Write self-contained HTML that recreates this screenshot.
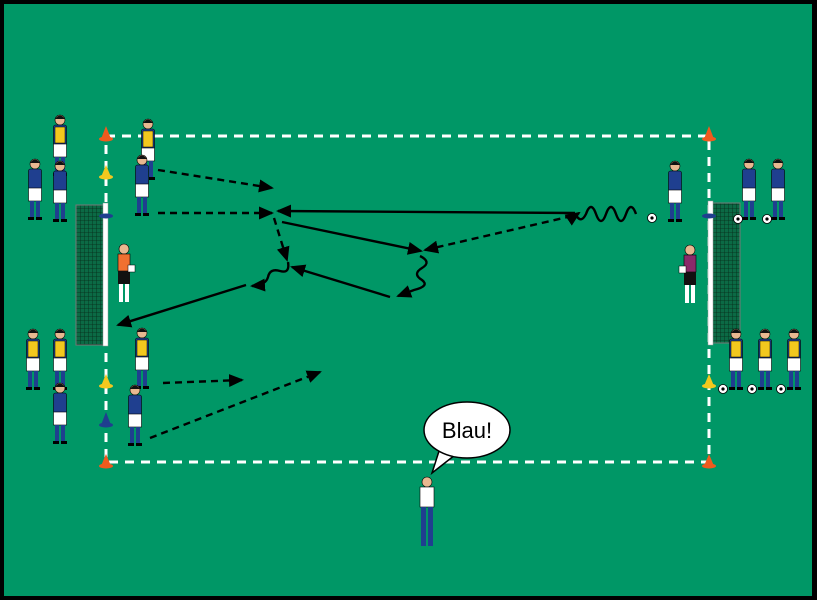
<!DOCTYPE html>
<html><head><meta charset="utf-8"><style>
html,body{margin:0;padding:0;background:#000;}
svg{display:block;}
</style></head><body>
<svg width="817" height="600" viewBox="0 0 817 600" xmlns="http://www.w3.org/2000/svg">
<defs>
<marker id="ah" markerWidth="15" markerHeight="13" refX="13" refY="6.5" orient="auto" markerUnits="userSpaceOnUse" viewBox="0 0 15 13">
<path d="M0,0 L15,6.5 L0,13 z" fill="#000"/></marker>
<g id="pb">
<circle cx="0" cy="4" r="5" fill="#e8b890" stroke="#000" stroke-width="0.6"/>
<path d="M-5,3 Q0,-4 5,3 z" fill="#111"/>
<rect x="-6.5" y="9" width="13" height="20" rx="2" fill="#1f3f8f" stroke="#000" stroke-width="0.6"/>
<rect x="-6.5" y="28" width="13" height="13" fill="#fff" stroke="#000" stroke-width="0.6"/>
<rect x="-5" y="41" width="4" height="17" fill="#1f3f8f"/>
<rect x="1" y="41" width="4" height="17" fill="#1f3f8f"/>
<rect x="-7" y="57" width="6" height="3" fill="#000"/>
<rect x="1" y="57" width="6" height="3" fill="#000"/>
</g>
<g id="py">
<use href="#pb"/>
<rect x="-5" y="11" width="10" height="16" fill="#f2c81e" stroke="#000" stroke-width="0.5"/>
</g>
<g id="ball"><circle r="4.5" fill="#fff" stroke="#000" stroke-width="0.8"/><circle r="1.6" fill="#000"/></g>
<pattern id="net" width="4" height="4" patternUnits="userSpaceOnUse"><rect width="4" height="4" fill="#0b6a45"/><path d="M4,0 L0,0 0,4" fill="none" stroke="#062a18" stroke-width="0.8"/></pattern>
</defs>
<rect x="0" y="0" width="817" height="600" fill="#000"/>
<rect x="4" y="4" width="808" height="592" fill="#009766"/>

<rect x="106" y="136" width="603" height="326" fill="none" stroke="#fff" stroke-width="3" stroke-dasharray="9,7"/>

<rect x="76" y="205" width="28" height="140" fill="url(#net)" stroke="#777"/>
<rect x="103" y="203" width="5" height="143" fill="#fff" stroke="#999" stroke-width="0.5"/>
<rect x="712" y="203" width="28" height="140" fill="url(#net)" stroke="#777"/>
<rect x="708" y="201" width="5" height="144" fill="#fff" stroke="#999" stroke-width="0.5"/>

<g>
<path d="M101,139 L106,126 L111,139 z" fill="#f05a1e"/><ellipse cx="106" cy="139" rx="7" ry="2.5" fill="#f05a1e"/>
<path d="M101,466 L106,454 L111,466 z" fill="#f05a1e"/><ellipse cx="106" cy="466" rx="7" ry="2.5" fill="#f05a1e"/>
<path d="M704,139 L709,126 L714,139 z" fill="#f05a1e"/><ellipse cx="709" cy="139" rx="7" ry="2.5" fill="#f05a1e"/>
<path d="M704,466 L709,454 L714,466 z" fill="#f05a1e"/><ellipse cx="709" cy="466" rx="7" ry="2.5" fill="#f05a1e"/>
<path d="M101,177 L106,165 L111,177 z" fill="#f2c81e"/><ellipse cx="106" cy="177" rx="7" ry="2.5" fill="#f2c81e"/>
<path d="M101,386 L106,374 L111,386 z" fill="#f2c81e"/><ellipse cx="106" cy="386" rx="7" ry="2.5" fill="#f2c81e"/>
<path d="M704,386 L709,374 L714,386 z" fill="#f2c81e"/><ellipse cx="709" cy="386" rx="7" ry="2.5" fill="#f2c81e"/>
<ellipse cx="106" cy="216" rx="7" ry="2.5" fill="#1f3f8f"/>
<path d="M101,425 L106,412 L111,425 z" fill="#1f3f8f"/><ellipse cx="106" cy="425" rx="7" ry="2.5" fill="#1f3f8f"/>
<ellipse cx="709" cy="216" rx="7" ry="2.5" fill="#1f3f8f"/>
</g>

<use href="#py" x="60" y="116"/>
<use href="#pb" x="35" y="160"/>
<use href="#pb" x="60" y="162"/>
<use href="#py" x="33" y="330"/>
<use href="#py" x="60" y="330"/>
<use href="#pb" x="60" y="384"/>
<use href="#pb" x="749" y="160"/>
<use href="#pb" x="778" y="160"/>
<use href="#py" x="736" y="330"/>
<use href="#py" x="765" y="330"/>
<use href="#py" x="794" y="330"/>
<use href="#ball" x="738" y="219"/><use href="#ball" x="767" y="219"/><use href="#ball" x="652" y="218"/>
<use href="#ball" x="723" y="389"/><use href="#ball" x="752" y="389"/><use href="#ball" x="781" y="389"/>

<use href="#py" x="148" y="120"/>
<use href="#pb" x="142" y="156"/>
<use href="#py" x="142" y="329"/>
<use href="#pb" x="135" y="386"/>
<use href="#pb" x="675" y="162"/>
<g transform="translate(124,245)">
<circle cx="0" cy="4" r="5" fill="#e8b890" stroke="#000" stroke-width="0.6"/>
<rect x="-6" y="9" width="12" height="17" fill="#f07030" stroke="#000" stroke-width="0.6"/>
<rect x="-6" y="26" width="12" height="13" fill="#111"/>
<rect x="-5" y="39" width="4" height="18" fill="#fff"/><rect x="1" y="39" width="4" height="18" fill="#fff"/>
<rect x="4" y="20" width="7" height="7" fill="#fff" stroke="#000" stroke-width="0.5"/>
</g>
<g transform="translate(690,246)">
<circle cx="0" cy="4" r="5" fill="#e8b890" stroke="#000" stroke-width="0.6"/>
<rect x="-6" y="9" width="12" height="17" fill="#8a2a6a" stroke="#000" stroke-width="0.6"/>
<rect x="-6" y="26" width="12" height="13" fill="#111"/>
<rect x="-5" y="39" width="4" height="18" fill="#fff"/><rect x="1" y="39" width="4" height="18" fill="#fff"/>
<rect x="-11" y="20" width="7" height="7" fill="#fff" stroke="#000" stroke-width="0.5"/>
</g>
<g transform="translate(427,478)">
<circle cx="0" cy="4" r="5" fill="#e8b890" stroke="#000" stroke-width="0.6"/>
<rect x="-7" y="9" width="14" height="20" fill="#fff" stroke="#000" stroke-width="0.6"/>
<rect x="-6" y="29" width="5" height="39" fill="#1f3f8f"/><rect x="1" y="29" width="5" height="39" fill="#1f3f8f"/>
</g>

<g fill="none" stroke="#000" stroke-width="2.4">
<g stroke-dasharray="7,5">
<path d="M158,170 L272,188" marker-end="url(#ah)"/>
<path d="M158,213 L272,213" marker-end="url(#ah)"/>
<path d="M274,218 L287,260" marker-end="url(#ah)"/>
<path d="M163,383 L242,380" marker-end="url(#ah)"/>
<path d="M150,438 L320,372" marker-end="url(#ah)"/>
<path d="M572,216 L425,250" marker-end="url(#ah)"/>
</g>
<path d="M575,213 L278,211" marker-end="url(#ah)"/>
<path d="M282,222 L421,251" marker-end="url(#ah)"/>
<path d="M390,297 L292,267" marker-end="url(#ah)"/>
<path d="M246,285 L118,325" marker-end="url(#ah)"/>
<path d="M636,214 q-5,-14 -10,0 q-5,14 -10,0 q-5,-14 -10,0 q-5,14 -10,0 q-5,-14 -10,0 q-5,10 -10,1 L579,213" marker-end="url(#ah)"/>
<path d="M420,256 q12,6 2,12 q-10,6 0,12 q8,6 -8,10 L398,296" marker-end="url(#ah)"/>
<path d="M288,262 q2,12 -8,9 q-10,-3 -12,6 q-2,8 -16,9" marker-end="url(#ah)"/>
</g>

<path d="M440,448 L432,473 L455,455" fill="#fff" stroke="#000" stroke-width="1.5"/>
<ellipse cx="467" cy="430" rx="43" ry="28" fill="#fff" stroke="#000" stroke-width="1.5"/>
<path d="M442,447 L455,455" stroke="#fff" stroke-width="3"/>
<text x="467" y="438" font-family="Liberation Sans, sans-serif" font-size="22" text-anchor="middle" fill="#000">Blau!</text>
</svg>
</body></html>
